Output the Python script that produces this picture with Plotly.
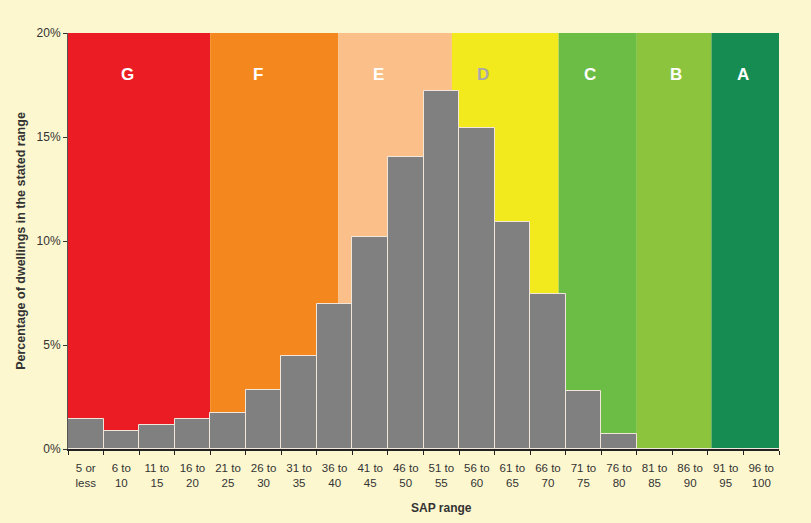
import plotly.graph_objects as go

categories = ["5 or<br>less", "6 to<br>10", "11 to<br>15", "16 to<br>20", "21 to<br>25",
              "26 to<br>30", "31 to<br>35", "36 to<br>40", "41 to<br>45", "46 to<br>50",
              "51 to<br>55", "56 to<br>60", "61 to<br>65", "66 to<br>70", "71 to<br>75",
              "76 to<br>80", "81 to<br>85", "86 to<br>90", "91 to<br>95", "96 to<br>100"]
percent = [1.44, 0.86, 1.15, 1.42, 1.73, 2.83, 4.46, 6.95, 10.2, 14.05,
           17.2, 15.45, 10.9, 7.43, 2.78, 0.72, 0, 0, 0, 0]

band_letters = ["G", "F", "E", "D", "C", "B", "A"]
band_edges_sap = [0.5, 20.5, 38.5, 54.5, 69.5, 80.5, 91.0, 100.5]
band_label_sap = [8.8, 27.2, 44.1, 58.9, 73.9, 86.0, 95.5]
band_colors = ["#EC1C24", "#F5871F", "#FBBF8A", "#F3EA1E", "#6BBD45", "#8CC43E", "#168B52"]
band_text_colors = ["white", "white", "white", "#A8A8A8", "white", "white", "white"]

def sap_to_x(s):
    return (s - 0.5) / 5 - 0.5

fig = go.Figure()
shapes = []
annotations = []
for i, letter in enumerate(band_letters):
    shapes.append(dict(type="rect", xref="x", yref="y",
                       x0=sap_to_x(band_edges_sap[i]), x1=sap_to_x(band_edges_sap[i + 1]),
                       y0=0, y1=20, fillcolor=band_colors[i], line_width=0, layer="below"))
    annotations.append(dict(x=sap_to_x(band_label_sap[i]), y=18.0, xref="x", yref="y",
                            text="<b>%s</b>" % letter, showarrow=False,
                            font=dict(family="Liberation Sans, Arial", size=17,
                                      color=band_text_colors[i])))

annotations.append(dict(x=0.525, y=-0.142, xref="paper", yref="paper",
                        text="<b>SAP range</b>", showarrow=False, yanchor="middle",
                        xanchor="center",
                        font=dict(size=12, family="Liberation Sans, Arial", color="#333333")))

fig.add_trace(go.Bar(x=categories, y=percent,
                     marker=dict(color="#808080", line=dict(color="#F2E6DA", width=1)),
                     width=1.0, hoverinfo="skip"))

fig.update_layout(
    width=811, height=523,
    margin=dict(l=68, r=32, t=33, b=74),
    paper_bgcolor="#FCF7CF", plot_bgcolor="#FCF7CF",
    shapes=shapes, annotations=annotations,
    bargap=0, showlegend=False,
    font=dict(family="Liberation Sans Narrow, Arial Narrow, Liberation Sans, Arial", size=11, color="#333333"),
)
fig.update_xaxes(type="category", range=[-0.5, 19.5], showgrid=False,
                 showline=True, linecolor="#222222", linewidth=1.5,
                 ticks="outside", tickson="boundaries", ticklen=4, tickcolor="#222222",
                 ticklabelstandoff=7, tickangle=0,
                 tickfont=dict(size=11.5, color="#333333"))
fig.update_yaxes(range=[0, 20], tickvals=[0, 5, 10, 15, 20],
                 ticktext=["0%", "5%", "10%", "15%", "20%"],
                 showgrid=False, zeroline=False,
                 showline=True, linecolor="#555555", linewidth=1,
                 ticks="outside", ticklen=4, tickcolor="#333333",
                 tickfont=dict(size=12, color="#333333"),
                 title=dict(text="<b>Percentage of dwellings in the stated range</b>",
                            font=dict(size=12.5, family="Liberation Sans, Arial", color="#333333"), standoff=8))

fig.write_html("out.html", config={"displayModeBar": False},
               post_script="document.body.style.margin='0';document.body.style.background='#FCF7CF';")
